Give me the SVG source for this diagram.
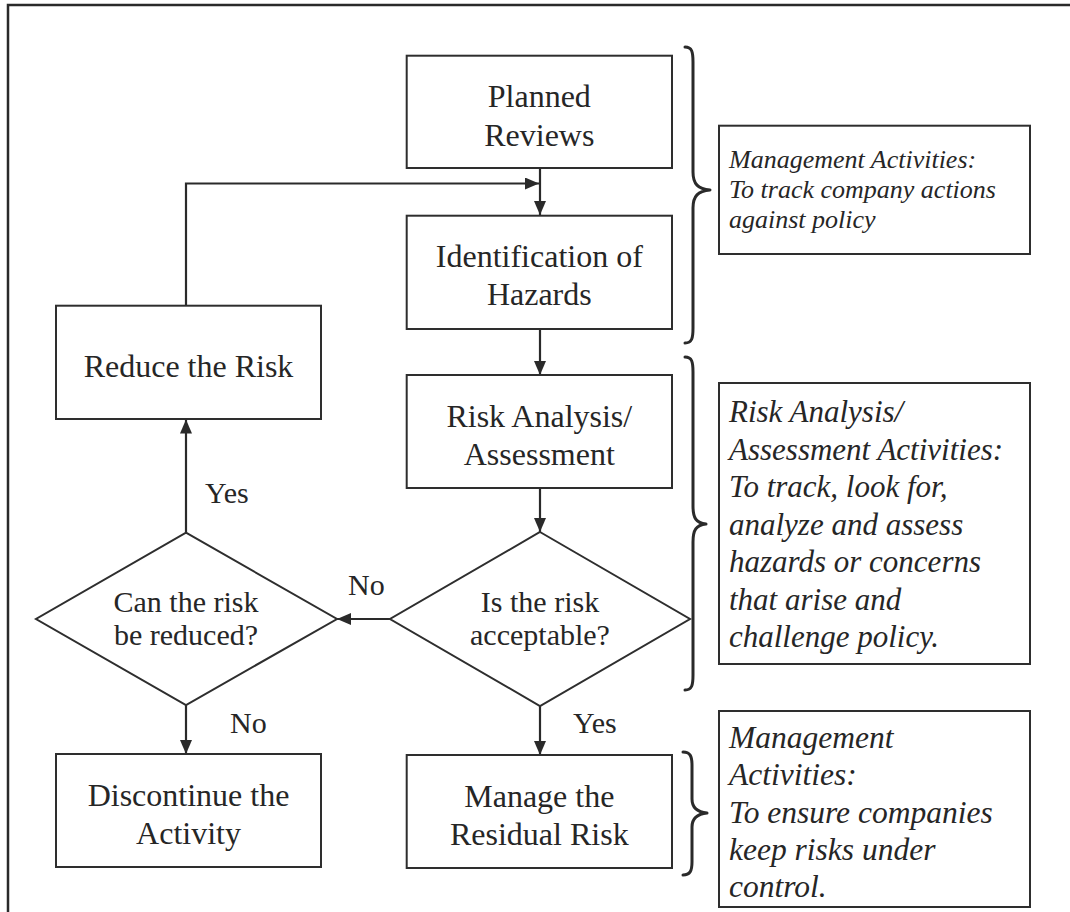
<svg xmlns="http://www.w3.org/2000/svg" width="1070" height="912" viewBox="0 0 1070 912">
  <style>
    .frame { fill: none; stroke: #2a2a2a; stroke-width: 2.5; }
    .box { fill: #ffffff; stroke: #2e2e2e; stroke-width: 2; }
    .note { fill: #ffffff; stroke: #2e2e2e; stroke-width: 2; }
    .brace { fill: none; stroke: #2a2a2a; stroke-width: 3; stroke-linejoin: round; stroke-linecap: round; }
    .conn { fill: none; stroke: #2a2a2a; stroke-width: 2.2; }
    .main { font-family: "Liberation Serif", "Times New Roman", serif; font-size: 32px; fill: #262626; text-anchor: middle; }
    .dia { font-family: "Liberation Serif", "Times New Roman", serif; font-size: 30px; fill: #262626; text-anchor: middle; }
    .lbl { font-family: "Liberation Serif", "Times New Roman", serif; font-size: 30px; fill: #262626; }
    .it { font-family: "Liberation Serif", "Times New Roman", serif; font-style: italic; fill: #262626; }
  </style>
  <defs>
    <marker id="arrow" markerUnits="userSpaceOnUse" markerWidth="14" markerHeight="12" refX="14" refY="6" orient="auto">
      <path d="M0,0 L14,6 L0,12 z" fill="#2a2a2a"/>
    </marker>
  </defs>

  <rect width="1070" height="912" fill="#ffffff"/>
  <!-- outer frame (open to the right and bottom) -->
  <path class="frame" d="M8,914 L8,5 L1072,5"/>

  <!-- connectors -->
  <g id="connectors">
    <line class="conn" x1="540" y1="168" x2="540" y2="215" marker-end="url(#arrow)"/>
    <polyline class="conn" points="186,305.7 186,183.5 539,183.5" marker-end="url(#arrow)"/>
    <line class="conn" x1="540" y1="329" x2="540" y2="375" marker-end="url(#arrow)"/>
    <line class="conn" x1="540" y1="488" x2="540" y2="532" marker-end="url(#arrow)"/>
    <line class="conn" x1="390" y1="619" x2="337" y2="619" marker-end="url(#arrow)"/>
    <line class="conn" x1="186" y1="532.7" x2="186" y2="419.5" marker-end="url(#arrow)"/>
    <line class="conn" x1="186" y1="705" x2="186" y2="754" marker-end="url(#arrow)"/>
    <line class="conn" x1="540" y1="706" x2="540" y2="755" marker-end="url(#arrow)"/>
    <text class="lbl" x="205" y="503">Yes</text>
    <text class="lbl" x="348" y="595">No</text>
    <text class="lbl" x="230" y="733">No</text>
    <text class="lbl" x="573" y="733">Yes</text>
  </g>

  <g id="planned-reviews">
    <rect class="box" x="406.7" y="55.7" width="265.3" height="112.3"/>
    <text class="main" x="539.3" y="107">Planned</text>
    <text class="main" x="539.3" y="145.5">Reviews</text>
  </g>

  <g id="identification">
    <rect class="box" x="406.7" y="215.7" width="265.3" height="113.3"/>
    <text class="main" x="539.3" y="267">Identification of</text>
    <text class="main" x="539.3" y="305">Hazards</text>
  </g>

  <g id="risk-analysis">
    <rect class="box" x="406.7" y="375" width="265.3" height="113"/>
    <text class="main" x="539.3" y="426.7">Risk Analysis/</text>
    <text class="main" x="539.3" y="464.5">Assessment</text>
  </g>

  <g id="reduce-risk">
    <rect class="box" x="56" y="305.7" width="265" height="113.3"/>
    <text class="main" x="188.5" y="377">Reduce the Risk</text>
  </g>

  <g id="risk-acceptable">
    <polygon class="box" points="540,532 690,619 540,706 390,619"/>
    <text class="dia" x="540" y="612">Is the risk</text>
    <text class="dia" x="540" y="645">acceptable?</text>
  </g>

  <g id="can-reduce">
    <polygon class="box" points="186,532.7 337,619 186,705 36,619"/>
    <text class="dia" x="186" y="611.7">Can the risk</text>
    <text class="dia" x="186" y="644.5">be reduced?</text>
  </g>

  <g id="discontinue">
    <rect class="box" x="56" y="754" width="265" height="113"/>
    <text class="main" x="188.5" y="806">Discontinue the</text>
    <text class="main" x="188.5" y="843.5">Activity</text>
  </g>

  <g id="manage-residual">
    <rect class="box" x="406.7" y="755" width="265.3" height="113"/>
    <text class="main" x="539.3" y="806.5">Manage the</text>
    <text class="main" x="539.3" y="844.5">Residual Risk</text>
  </g>

  <!-- braces -->
  <g id="braces">
    <path class="brace" d="M685,47 C692,47 693,52 693,62 L693,172 C693,184 698,189 710,190 C698,191 693,196 693,208 L693,328 C693,338 692,343 685,343"/>
    <path class="brace" d="M685,357 C692,357 693,362 693,372 L693,506 C693,518 696,523 706,524 C696,525 693,530 693,542 L693,675 C693,685 692,690 685,690"/>
    <path class="brace" d="M683,752 C690,752 692,756 692,765 L692,799 C692,808 697,812 707,813 C697,814 692,818 692,827 L692,862 C692,871 690,875 683,875"/>
  </g>

  <g id="note-management-top">
    <rect class="note" x="719" y="125.7" width="311" height="128.3"/>
    <text class="it" font-size="26" x="729" y="168">Management Activities:</text>
    <text class="it" font-size="26" x="729" y="198">To track company actions</text>
    <text class="it" font-size="26" x="729" y="228">against policy</text>
  </g>

  <g id="note-risk-analysis">
    <rect class="note" x="719" y="383" width="311" height="281"/>
    <text class="it" font-size="31" x="729" y="422">Risk Analysis/</text>
    <text class="it" font-size="31" x="729" y="459.5">Assessment Activities:</text>
    <text class="it" font-size="31" x="729" y="497">To track, look for,</text>
    <text class="it" font-size="31" x="729" y="534.5">analyze and assess</text>
    <text class="it" font-size="31" x="729" y="572">hazards or concerns</text>
    <text class="it" font-size="31" x="729" y="609.5">that arise and</text>
    <text class="it" font-size="31" x="729" y="647">challenge policy.</text>
  </g>

  <g id="note-management-bottom">
    <rect class="note" x="719" y="711" width="311" height="196"/>
    <text class="it" font-size="31.5" x="729" y="748">Management</text>
    <text class="it" font-size="31.5" x="729" y="785">Activities:</text>
    <text class="it" font-size="31.5" x="729" y="823">To ensure companies</text>
    <text class="it" font-size="31.5" x="729" y="860">keep risks under</text>
    <text class="it" font-size="31.5" x="729" y="897">control.</text>
  </g>
</svg>
